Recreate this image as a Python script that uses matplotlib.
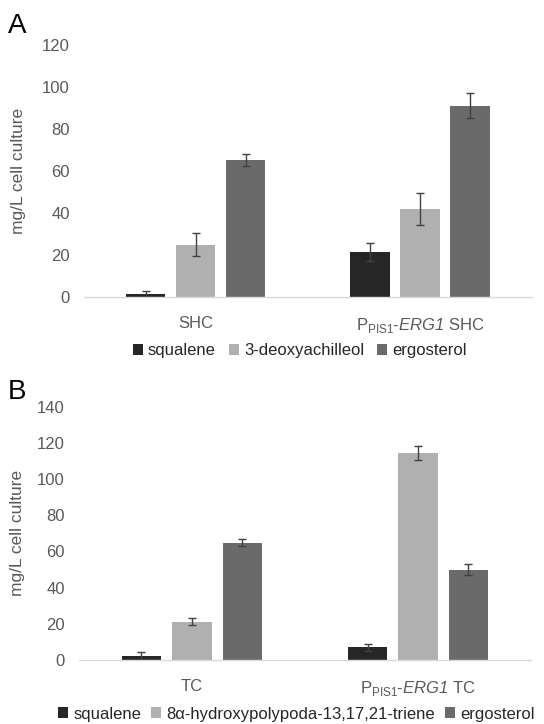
import matplotlib.pyplot as plt
import numpy as np

# Data
strains_a = ["SHC", r"P$_{\mathrm{PIS1}}$-$\mathsf{ERG1}$ SHC"]
compounds_a = ["squalene", "3-deoxyachilleol", "ergosterol"]
values_a = [[1.5, 21.3], [24.8, 41.8], [65.2, 91.2]]
errors_a = [[1.3, 4.2], [5.5, 7.5], [3.0, 5.9]]

strains_b = ["TC", r"P$_{\mathrm{PIS1}}$-$\mathsf{ERG1}$ TC"]
compounds_b = ["squalene", "8α-hydroxypolypoda-13,17,21-triene", "ergosterol"]
values_b = [[2.2, 7.0], [21.2, 114.3], [64.8, 50.0]]
errors_b = [[2.0, 2.0], [2.0, 4.0], [2.0, 3.0]]

colors = ["#262626", "#b0b0b0", "#6a6a6a"]
text_color = "#595959"

plt.rcParams["font.family"] = ["Liberation Sans", "DejaVu Sans"]
plt.rcParams["mathtext.fontset"] = "custom"
plt.rcParams["mathtext.rm"] = "Liberation Sans"
# italic gene name, digits included
plt.rcParams["mathtext.sf"] = "Liberation Sans:italic"
plt.rcParams["font.size"] = 12


def draw_panel(ax, strains, compounds, values, errors, ymax):
    x = np.arange(len(strains))
    width = 0.175
    step = 0.223
    for i, (name, vals, errs) in enumerate(zip(compounds, values, errors)):
        ax.bar(x + (i - 1) * step, vals, width, color=colors[i], label=name,
               yerr=errs, capsize=3,
               error_kw=dict(ecolor="#404040", elinewidth=1, capthick=1))
    ax.set_xlim(-0.5, len(strains) - 0.5)
    ax.set_ylim(0, ymax)
    ax.set_yticks(np.arange(0, ymax + 1, 20))
    ax.set_xticks(x)
    ax.set_xticklabels(strains)
    for side in ["top", "right", "left"]:
        ax.spines[side].set_visible(False)
    ax.spines["bottom"].set_color("#d9d9d9")
    ax.spines["bottom"].set_linewidth(1)
    ax.tick_params(axis="both", length=0, colors=text_color, labelsize=12)
    ax.tick_params(axis="x", pad=14)
    ax.tick_params(axis="y", pad=10)
    ax.set_ylabel("mg/L cell culture", color=text_color, fontsize=12.5)


fig = plt.figure(figsize=(5.44, 7.24), dpi=100)

ax_a = fig.add_axes([0.154, 0.5898, 0.824, 0.348])
draw_panel(ax_a, strains_a, compounds_a, values_a, errors_a, 120)
ax_a.yaxis.set_label_coords(-0.13, 0.5)

ax_b = fig.add_axes([0.145, 0.0884, 0.831, 0.3499])
draw_panel(ax_b, strains_b, compounds_b, values_b, errors_b, 140)
ax_b.yaxis.set_label_coords(-0.12, 0.5)

legend_style = dict(ncol=3, frameon=False, handlelength=0.6, handleheight=0.6,
                    handletextpad=0.3, fontsize=12,
                    labelcolor="#262626", loc="center")
handles_a, labels_a = ax_a.get_legend_handles_labels()
fig.legend(handles_a, labels_a, bbox_to_anchor=(0.551, 1 - 351 / 724),
           columnspacing=0.8, **legend_style)
handles_b, labels_b = ax_b.get_legend_handles_labels()
fig.legend(handles_b, labels_b, bbox_to_anchor=(0.545, 1 - 714 / 724),
           columnspacing=0.6, **legend_style)

fig.text(0.015, 1 - 26 / 724, "A", fontsize=20, va="center", color="black")
fig.text(0.015, 1 - 392 / 724, "B", fontsize=20, va="center", color="black")

fig.savefig("out.png", dpi=100)
